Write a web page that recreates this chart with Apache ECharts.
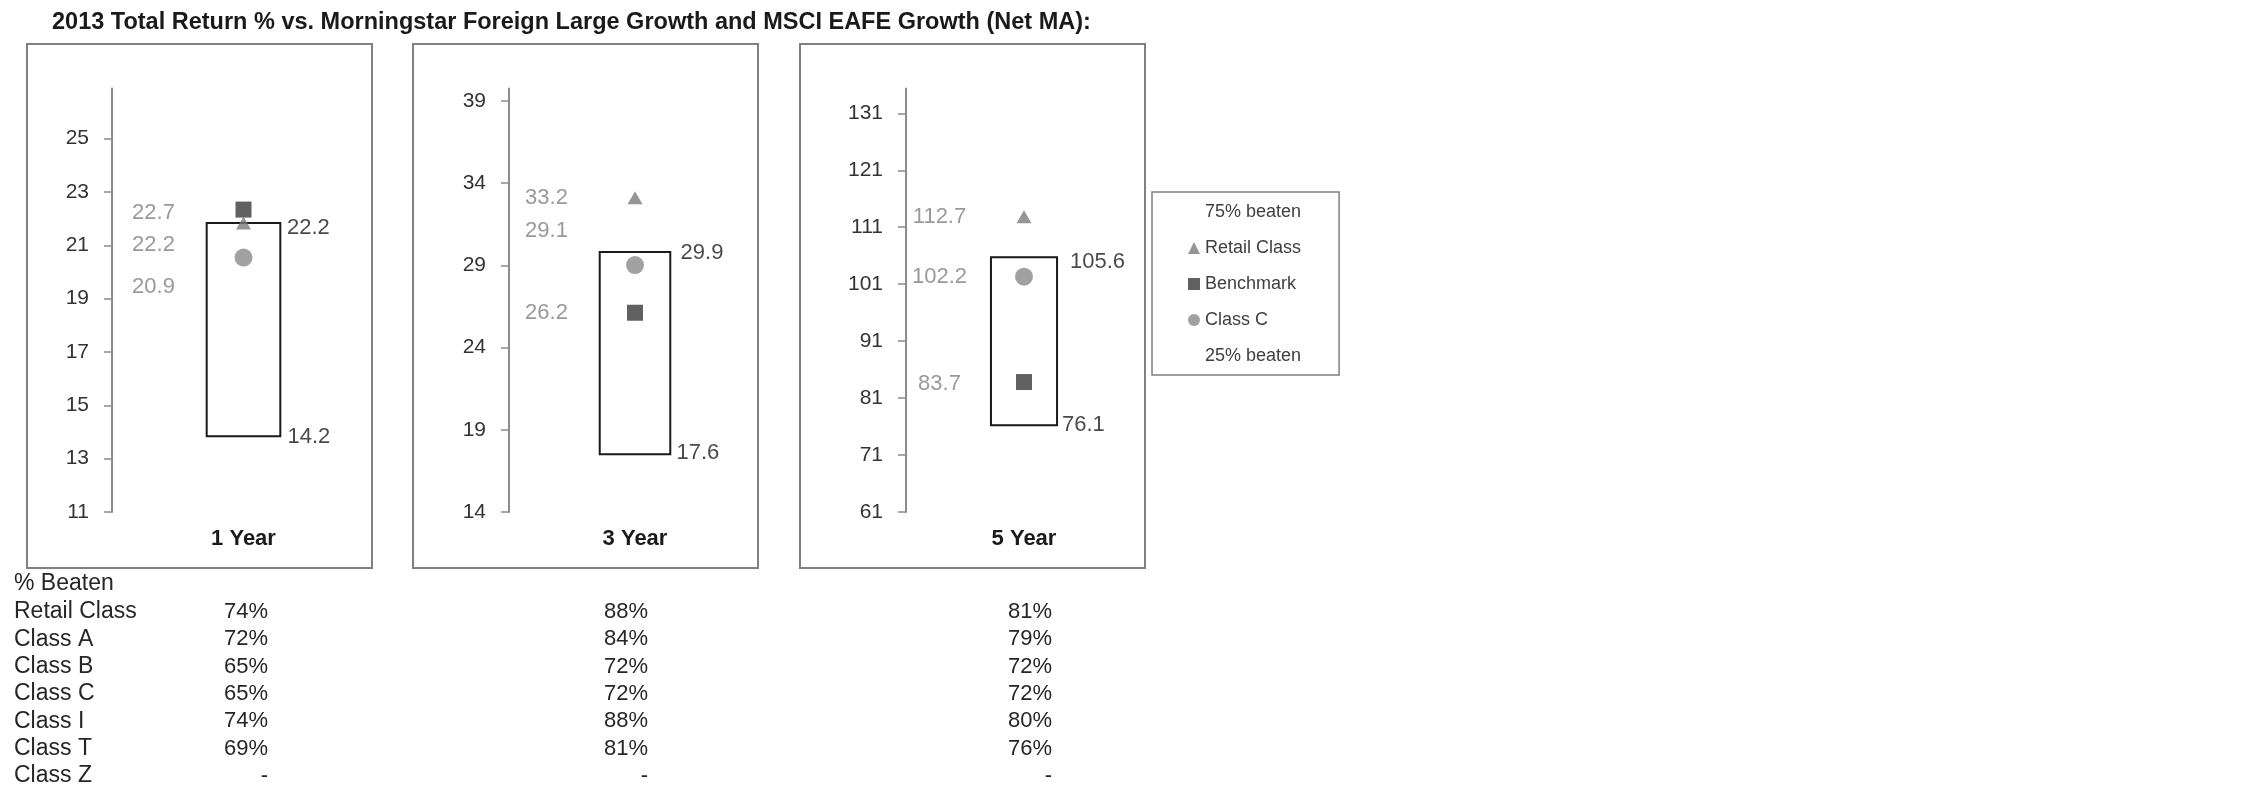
<!DOCTYPE html>
<html><head><meta charset="utf-8">
<script src="https://cdn.jsdelivr.net/npm/echarts@6/dist/echarts.min.js"></script>
<style>html,body{margin:0;padding:0;background:#fff}#c{width:2250px;height:796px}</style>
</head><body><div id="c"></div>
<script>
// ---------------- data ----------------
const titleText = '2013 Total Return % vs. Morningstar Foreign Large Growth and MSCI EAFE Growth (Net MA):';
const periods = ['1 Year', '3 Year', '5 Year'];
const pct75 = [22.2, 29.9, 105.6];      // "75% beaten"
const pct25 = [14.2, 17.6, 76.1];       // "25% beaten"
const retailClass = [22.2, 33.2, 112.7];
const benchmark = [22.7, 26.2, 83.7];
const classC = [20.9, 29.1, 102.2];
const yMin = [11.36, 14.08, 60.88];
const yMax = [27.24, 39.84, 135.24];
const yStep = [2, 5, 10];
const yTickLabels = [
  ['11', '13', '15', '17', '19', '21', '23', '25'],
  ['14', '19', '24', '29', '34', '39'],
  ['61', '71', '81', '91', '101', '111', '121', '131']
];
const tableTitle = '% Beaten';
const shareClasses = ['Retail Class', 'Class A', 'Class B', 'Class C', 'Class I', 'Class T', 'Class Z'];
const beaten1Y = ['74%', '72%', '65%', '65%', '74%', '69%', '-'];
const beaten3Y = ['88%', '84%', '72%', '72%', '88%', '81%', '-'];
const beaten5Y = ['81%', '79%', '72%', '72%', '80%', '76%', '-'];

// ---------------- layout / style ----------------
const FONT = '"Liberation Sans", Arial, sans-serif';
const gridTop = 88.5, gridHeight = 423.5;
const panels = [
  { frame: [27, 44, 345, 524], left: 112, width: 263, greyDx: -90, hi: [43.5, 5], lo: [44, 1], nudge: { r: 22, b: 3, c: 29 } },
  { frame: [413, 44, 345, 524], left: 509, width: 252, greyDx: -88.5, hi: [45.6, 1], lo: [41.5, -1], nudge: { r: 0, b: 0, c: -34 } },
  { frame: [800, 44, 345, 524], left: 906, width: 236, greyDx: -84.5, hi: [46, 5], lo: [38, 0], nudge: { r: 0, b: 2, c: 0 } }
];
const tableCols = [beaten1Y, beaten3Y, beaten5Y];
const tableColRight = [268, 648, 1052];

const grid = [], xAxis = [], yAxis = [], series = [];
panels.forEach((p, i) => {
  grid.push({ left: p.left, top: gridTop, width: p.width, height: gridHeight });
  xAxis.push({
    type: 'category', gridIndex: i, data: [periods[i]],
    axisLine: { show: false }, axisTick: { show: false },
    axisLabel: { fontSize: 22, fontWeight: 'bold', color: '#1a1a1a', margin: 16 }
  });
  const tickVals = yTickLabels[i].map((_, k) => +(yMin[i] + k * yStep[i]).toFixed(4));
  yAxis.push({
    type: 'value', gridIndex: i, min: yMin[i], max: yMax[i],
    splitLine: { show: false },
    axisLine: { show: true, lineStyle: { color: '#8c8c8c', width: 2 } },
    axisTick: { show: true, length: 8, customValues: tickVals, lineStyle: { color: '#8c8c8c', width: 1.5 } },
    axisLabel: {
      customValues: tickVals, fontSize: 21, color: '#333', margin: 23,
      formatter: v => yTickLabels[i][Math.round((v - yMin[i]) / yStep[i])]
    }
  });
  const cat = periods[i];
  series.push({
    type: 'custom', name: 'range', xAxisIndex: i, yAxisIndex: i, silent: true, z: 1,
    data: [[0, pct25[i], pct75[i]]],
    encode: { x: 0, y: [1, 2] },
    renderItem: (params, api) => {
      const lo = api.coord([api.value(0), api.value(1)]);
      const hi = api.coord([api.value(0), api.value(2)]);
      const w = api.size([1, 0])[0] * 0.28;
      return { type: 'rect', shape: { x: lo[0] - w / 2, y: hi[1], width: w, height: lo[1] - hi[1] },
        style: { fill: '#fff', stroke: '#1a1a1a', lineWidth: 2 } };
    }
  });
  const edgeLabel = (off) => ({ show: true, position: 'inside', align: 'left', offset: off, color: '#1a1a1a',
    fontSize: 22, formatter: q => q.value[1].toFixed(1) });
  series.push({ type: 'scatter', name: '75% beaten', xAxisIndex: i, yAxisIndex: i, symbolSize: 1, z: 3,
    itemStyle: { color: 'rgba(0,0,0,0)' }, data: [[cat, pct75[i]]], label: edgeLabel(p.hi) });
  series.push({ type: 'scatter', name: '25% beaten', xAxisIndex: i, yAxisIndex: i, symbolSize: 1, z: 3,
    itemStyle: { color: 'rgba(0,0,0,0)' }, data: [[cat, pct25[i]]], label: edgeLabel(p.lo) });
  const greyLabel = (dy) => ({ show: true, position: 'inside', offset: [p.greyDx, dy], color: '#7f7f7f',
    fontSize: 22, formatter: q => q.value[1].toFixed(1) });
  series.push({ type: 'scatter', name: 'Retail Class', xAxisIndex: i, yAxisIndex: i, z: 4,
    symbol: 'triangle', symbolSize: [15, 13], itemStyle: { color: '#7a7a7a' },
    data: [[cat, retailClass[i]]], label: greyLabel(p.nudge.r) });
  series.push({ type: 'scatter', name: 'Benchmark', xAxisIndex: i, yAxisIndex: i, z: 4,
    symbol: 'rect', symbolSize: 16, itemStyle: { color: '#3a3a3a' },
    data: [[cat, benchmark[i]]], label: greyLabel(p.nudge.b) });
  series.push({ type: 'scatter', name: 'Class C', xAxisIndex: i, yAxisIndex: i, z: 4,
    symbol: 'circle', symbolSize: 18, itemStyle: { color: '#8a8a8a' },
    data: [[cat, classC[i]]], label: greyLabel(p.nudge.c) });
});

const graphic = [];
panels.forEach(p => {
  graphic.push({ type: 'rect', silent: true, z: -1,
    shape: { x: p.frame[0], y: p.frame[1], width: p.frame[2], height: p.frame[3] },
    style: { fill: 'none', stroke: '#808080', lineWidth: 2 } });
});
const rowY0 = 612, rowStep = 27.3;
graphic.push({ type: 'text', x: 14, y: 584, style: { text: tableTitle, font: '23px ' + FONT, fill: '#262626', verticalAlign: 'middle' } });
shareClasses.forEach((name, r) => {
  const y = rowY0 + r * rowStep;
  graphic.push({ type: 'text', x: 14, y, style: { text: name, font: '23px ' + FONT, fill: '#262626', verticalAlign: 'middle' } });
  tableCols.forEach((col, c) => {
    graphic.push({ type: 'text', x: tableColRight[c], y, style: { text: col[r], font: '22px ' + FONT, fill: '#262626', align: 'right', verticalAlign: 'middle' } });
  });
});

const chart = echarts.init(document.getElementById('c'), null, { renderer: 'canvas' });
chart.setOption({
  backgroundColor: '#fff',
  animation: false,
  textStyle: { fontFamily: FONT },
  title: { text: titleText, left: 52, top: 11, padding: 0,
    textStyle: { fontSize: 23.5, fontWeight: 'bold', color: '#1a1a1a', fontFamily: FONT } },
  legend: {
    left: 1152, top: 192, orient: 'vertical', itemWidth: 12, itemHeight: 12, itemGap: 18,
    padding: [11, 38, 10, 36], borderColor: '#7f7f7f', borderWidth: 1.5, selectedMode: false,
    textStyle: { fontSize: 18, color: '#404040', lineHeight: 18 },
    data: [
      { name: '75% beaten', icon: 'none' },
      { name: 'Retail Class', icon: 'triangle' },
      { name: 'Benchmark', icon: 'rect' },
      { name: 'Class C', icon: 'circle' },
      { name: '25% beaten', icon: 'none' }
    ]
  },
  grid, xAxis, yAxis, series, graphic
});
</script>
</body></html>
